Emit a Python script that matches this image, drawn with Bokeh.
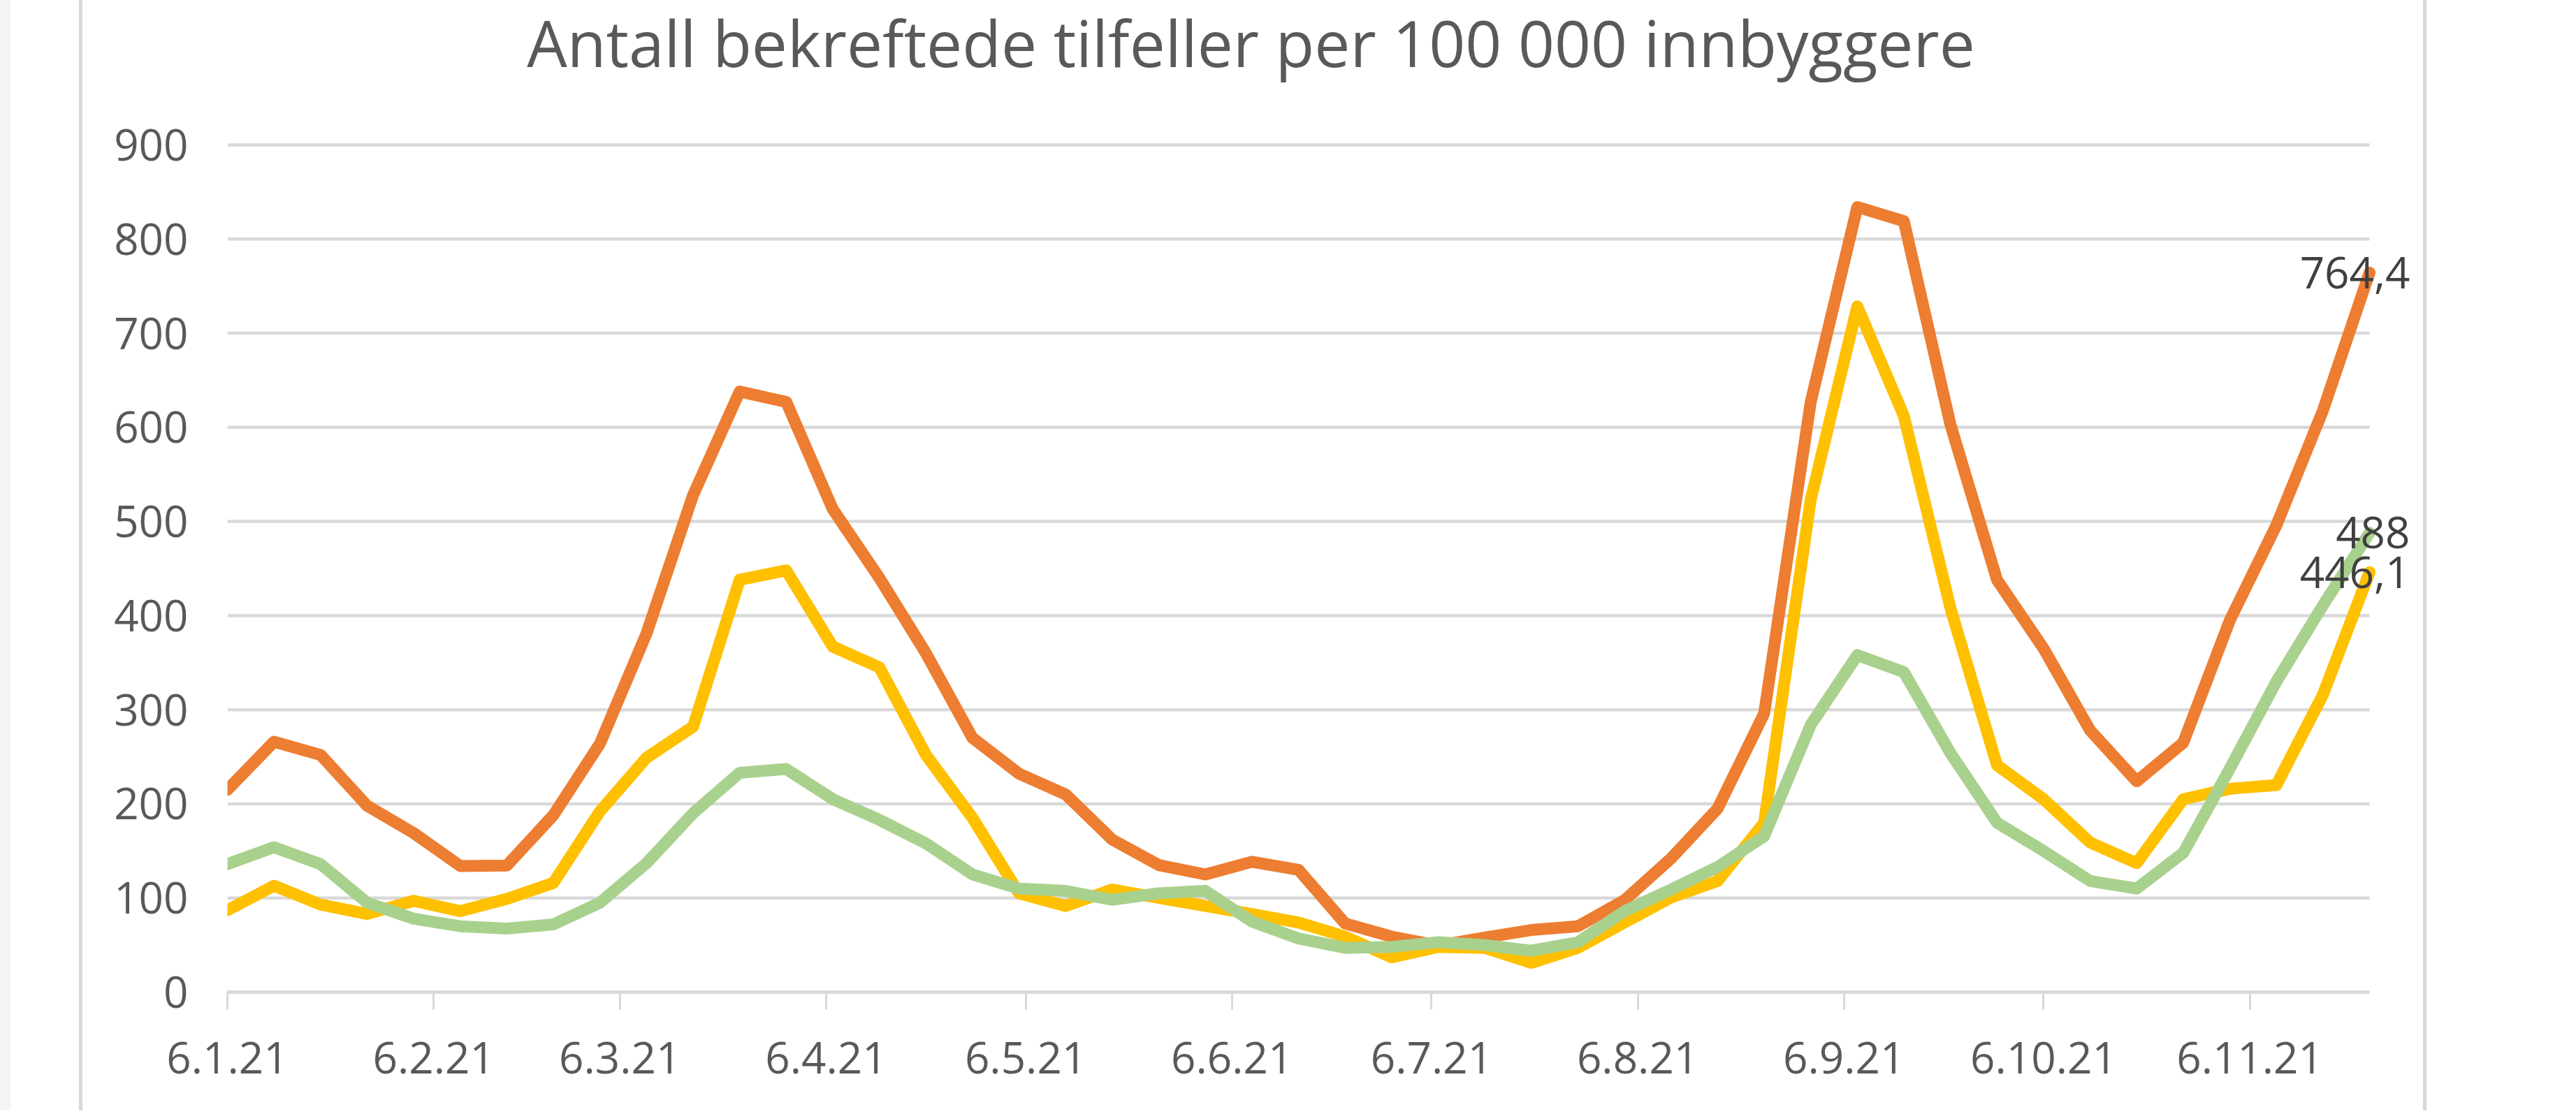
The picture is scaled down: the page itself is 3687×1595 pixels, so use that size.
import pandas as pd
from bokeh.plotting import figure
from bokeh.models import ColumnDataSource, Range1d, FixedTicker, Label, LabelSet, Spacer
from bokeh.layouts import row
from bokeh.core.properties import value
from bokeh.embed import file_html
from bokeh.resources import INLINE

# ---------------- data ----------------
title_text = "Antall bekreftede tilfeller per 100 000 innbyggere"
start_date = "2021-01-06"
n_weeks = 47
tick_dates = ["2021-01-06", "2021-02-06", "2021-03-06", "2021-04-06", "2021-05-06",
              "2021-06-06", "2021-07-06", "2021-08-06", "2021-09-06", "2021-10-06",
              "2021-11-06"]
tick_labels = ["6.1.21", "6.2.21", "6.3.21", "6.4.21", "6.5.21", "6.6.21",
               "6.7.21", "6.8.21", "6.9.21", "6.10.21", "6.11.21"]
y_ticks = [0, 100, 200, 300, 400, 500, 600, 700, 800, 900]

orange_values = [215, 266, 252, 198, 169, 134, 134.5, 188, 264, 381, 528, 638, 627, 513,
                 440, 360, 270, 232, 210, 162, 135, 125, 138.5, 130, 73, 59, 49.5, 58,
                 66, 70, 97.6, 142, 195, 296, 627, 834, 819, 603, 438, 365, 278, 224,
                 265, 395, 496, 618, 764.4]
yellow_values = [87, 113, 93, 83, 97, 86, 99, 116, 192, 249, 282, 438, 448, 367,
                 345, 252, 185, 105, 91.5, 109, 100, 91.5, 83, 74, 59, 37, 48, 47,
                 31, 47, 74, 100.5, 118, 180, 523, 728.5, 612, 408, 241, 205, 159, 137,
                 205, 216, 220, 316, 446.1]
green_values = [136, 154, 136, 95, 78, 70, 67.5, 72, 95, 137, 190, 233, 237, 205,
                183, 158, 125, 110, 107.5, 98, 105, 107.5, 75, 57, 47, 48, 53, 50,
                44, 53, 86, 109, 133, 165.6, 284, 358, 340, 254, 180, 150, 118, 110,
                148, 237.5, 330, 411, 488]

series_colors = ["#ED7D31", "#FFC000", "#A9D18E"]

# ---------------- derived ----------------
start = pd.Timestamp(start_date)
week_dates = pd.date_range(start_date, periods=n_weeks, freq="7D")
x_days = [(d - start).days for d in week_dates]
tick_days = [(pd.Timestamp(d) - start).days for d in tick_dates]

# ---------------- page geometry (pixels) ----------------
LEFT_STRIP, CARD_GAP, CARD_LINE = 15, 98, 5
FIG_LEFT = LEFT_STRIP + CARD_GAP + CARD_LINE          # 118
FIG_W, FIG_H = 3350, 1590
PLOT_LEFT, AXIS_END = 325, 3391                        # page x of first / last week
Y0_PX, Y900_PX = 1420, 207                             # page y of 0 / 900
TITLE_CX, TITLE_Y = 1790, 60                           # title centre x / anchor y

px_per_day = (AXIS_END - PLOT_LEFT) / (x_days[-1] - x_days[0])
px_per_unit = (Y0_PX - Y900_PX) / 900.0
x_end = x_days[-1] + (FIG_LEFT + FIG_W - AXIS_END) / px_per_day
y_end = Y0_PX / px_per_unit

FONT = "Open Sans"
TEXT_GREY = "#595959"
GRID = "#d9d9d9"

p = figure(width=FIG_W, height=FIG_H, output_backend="svg", toolbar_location=None,
           x_range=Range1d(x_days[0], x_end), y_range=Range1d(0, y_end),
           min_border_left=PLOT_LEFT - FIG_LEFT, min_border_right=0, min_border_top=0,
           min_border_bottom=FIG_H - Y0_PX)
p.background_fill_color = "white"
p.border_fill_color = "white"
p.outline_line_color = None
p.xgrid.grid_line_color = None
p.ygrid.grid_line_color = None

# horizontal gridlines spanning the data period only
p.segment(x0=[x_days[0]] * len(y_ticks), x1=[x_days[-1]] * len(y_ticks),
          y0=y_ticks, y1=y_ticks, line_color=GRID, line_width=4.5)

# y axis
p.yaxis.ticker = FixedTicker(ticks=y_ticks)
p.yaxis.axis_line_color = None
p.yaxis.major_tick_line_color = None
p.yaxis.minor_tick_line_color = None
p.yaxis.major_tick_out = 0
p.yaxis.major_tick_in = 0
p.yaxis.major_label_standoff = 56
p.yaxis.major_label_text_font = FONT
p.yaxis.major_label_text_font_size = "62px"
p.yaxis.major_label_text_color = TEXT_GREY

# x axis
p.xaxis.ticker = FixedTicker(ticks=tick_days)
p.xaxis.bounds = (x_days[0], x_days[-1])
p.xaxis.major_label_overrides = {d: lab for d, lab in zip(tick_days, tick_labels)}
p.xaxis.axis_line_color = GRID
p.xaxis.axis_line_width = 5
p.xaxis.major_tick_line_color = GRID
p.xaxis.major_tick_line_width = 3
p.xaxis.major_tick_in = 0
p.xaxis.major_tick_out = 25
p.xaxis.minor_tick_line_color = None
p.xaxis.major_label_standoff = 46
p.xaxis.major_label_text_font = FONT
p.xaxis.major_label_text_font_size = "62px"
p.xaxis.major_label_text_color = TEXT_GREY

# lines
for vals, col in zip([orange_values, yellow_values, green_values], series_colors):
    src = ColumnDataSource(dict(x=x_days, y=vals))
    p.line("x", "y", source=src, line_color=col, line_width=17,
           line_join="round", line_cap="round")

# end labels
last_vals = [orange_values[-1], yellow_values[-1], green_values[-1]]
end_src = ColumnDataSource(dict(
    x=[x_days[-1]] * 3, y=last_vals,
    t=[f"{v:g}".replace(".", ",") for v in last_vals]))
p.add_layout(LabelSet(x="x", y="y", text="t", source=end_src, x_offset=58,
                      text_align="right", text_baseline="middle",
                      text_font=value(FONT), text_font_size=value("62px"),
                      text_color="#404040"))

# title (centered on the chart card)
p.add_layout(Label(x=(TITLE_CX - PLOT_LEFT) / px_per_day, y=(Y0_PX - TITLE_Y) / px_per_unit,
                   text=title_text, text_align="center", text_baseline="alphabetic",
                   text_font=FONT, text_font_size="91px", text_color=TEXT_GREY))

PAGE_BG = "#f3f5f3"
layout = row(
    Spacer(width=LEFT_STRIP, height=FIG_H, styles={"background-color": PAGE_BG}),
    Spacer(width=CARD_GAP, height=FIG_H),
    Spacer(width=CARD_LINE, height=FIG_H, styles={"background-color": GRID}),
    p,
    Spacer(width=CARD_LINE, height=FIG_H, styles={"background-color": GRID}),
)

open("out.html", "w").write(file_html(layout, INLINE))
